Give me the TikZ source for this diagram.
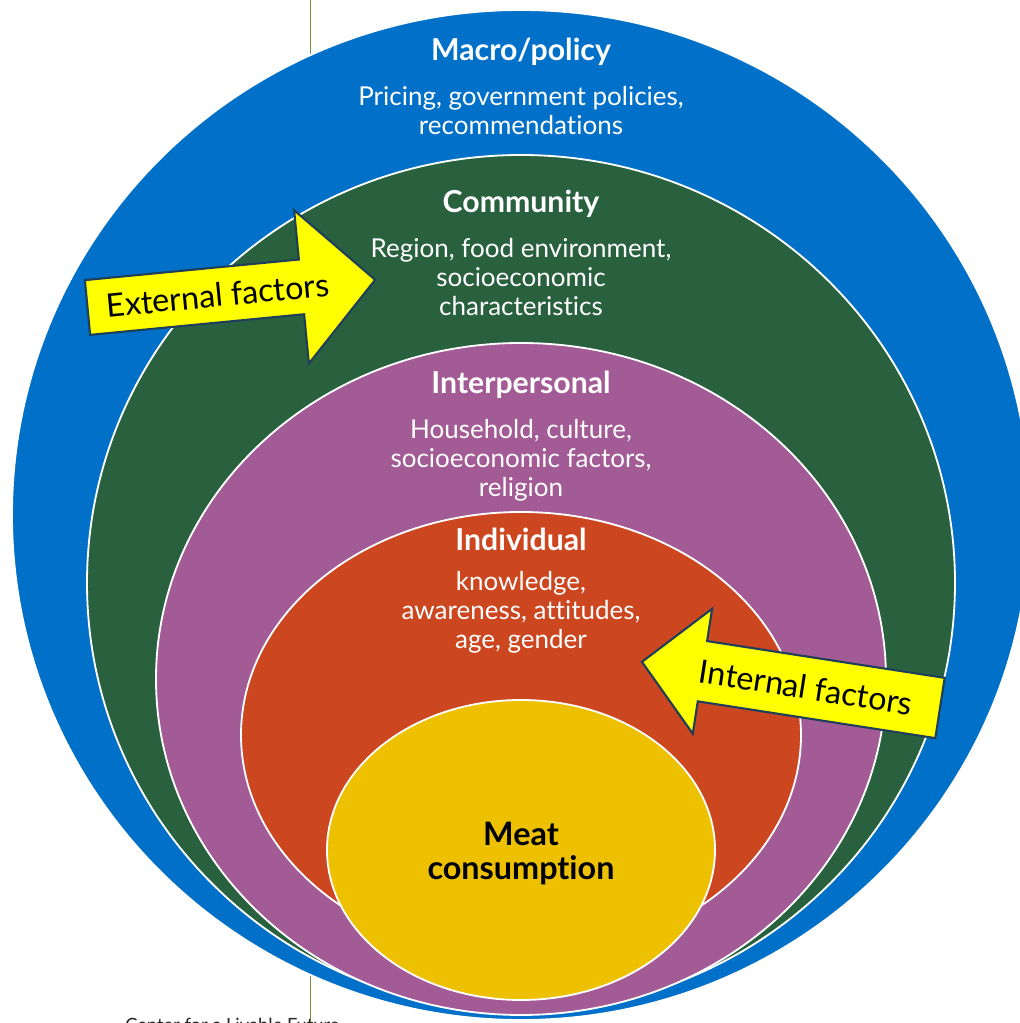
\documentclass[tikz,border=0pt]{standalone}
\usepackage{fontspec}
\setmainfont{Lato}[Ligatures={NoCommon}]
\usetikzlibrary{positioning, shapes.geometric}
\definecolor{macroblue}{HTML}{0070C8}
\definecolor{commgreen}{HTML}{29613F}
\definecolor{interpurple}{HTML}{A35B96}
\definecolor{indivred}{HTML}{CC4620}
\definecolor{meatgold}{HTML}{EEC100}
\definecolor{factoryellow}{HTML}{FFFF00}
\definecolor{arrowedge}{HTML}{1F3E5A}
\definecolor{ruleolive}{HTML}{77933C}

\begin{document}
\begin{tikzpicture}[
  ring/.style={ellipse, draw=white, line width=1.3pt, fill=#1, inner sep=0pt},
  ttl/.style={font=\fontsize{21.5}{24}\selectfont\bfseries, text=white,
              align=center, inner sep=0pt},
  txt/.style={font=\fontsize{18.5}{20.6}\selectfont, text=white,
              align=center, inner sep=0pt},
  bigarr/.style={draw=arrowedge, line width=1.5pt, fill=factoryellow,
                 line join=miter},
  arrtxt/.style={font=\fontsize{23}{26}\selectfont, inner sep=0pt},
]

\fill[white] (0,0) rectangle (25.475,25.575);
\useasboundingbox (0,0) rectangle (25.475,25.575);

% page rule behind the rings
\draw[ruleolive, line width=0.7pt] (7.75,25.575) -- (7.75,0);

%% ===== NESTED RINGS =====

\node[ring=macroblue, minimum width=25.45cm, minimum height=25.25cm] (macro) at (13.025,12.7) {};
\node[ring=commgreen, minimum width=21.7cm, minimum height=21.4cm] (comm) at (13.025,11.0) {};
\node[ring=interpurple, minimum width=18.25cm, minimum height=16.8cm] (inter) at (13.025,8.6) {};
\node[ring=indivred, minimum width=14.0cm, minimum height=11.15cm] (indiv) at (13.025,7.2) {};
\node[ring=meatgold, minimum width=9.7cm, minimum height=7.5cm] (meat) at (13.025,4.325) {};

%% ===== RING LABELS =====

\node[ttl] (macrottl) at ([yshift=-1.075cm]macro.north) {Macro/policy};
\node[txt, below=0.5cm of macrottl] (macrotxt)
    {Pricing, government policies,\\recommendations};

\node[ttl] (commttl) at ([yshift=-1.25cm]comm.north) {Community};
\node[txt, below=0.5cm of commttl] (commtxt)
    {Region, food environment,\\socioeconomic\\characteristics};

\node[ttl] (interttl) at ([yshift=-1.075cm]inter.north) {Interpersonal};
\node[txt, below=0.5cm of interttl] (intertxt)
    {Household, culture,\\socioeconomic factors,\\religion};

\node[ttl] (indivttl) at ([yshift=-0.7cm]indiv.north) {Individual};
\node[txt, below=0.5cm of indivttl] (indivtxt)
    {knowledge,\\awareness, attitudes,\\age, gender};

\node[font=\fontsize{23}{24.2}\selectfont\bfseries, align=center, inner sep=0pt]
    (meatlbl) at ([yshift=-0.1cm]meat.center) {Meat\\consumption};

%% ===== FACTOR ARROWS =====

\begin{scope}[shift={(2.1875,17.8875)}, rotate=5.5]
  \draw[bigarr] (0,0.6875) -- (5.375,0.6875) -- (5.375,1.925) -- (7.225,0)
    -- (5.375,-1.925) -- (5.375,-0.6875) -- (0,-0.6875) -- cycle;
  \node[arrtxt, transform shape] (extlbl) at (3.27,0) {External factors};
\end{scope}

\begin{scope}[shift={(23.5,7.875)}, rotate=171.2]
  \draw[bigarr] (0,0.7625) -- (6.01,0.7625) -- (6.01,1.58) -- (7.54,0)
    -- (6.01,-1.58) -- (6.01,-0.7625) -- (0,-0.7625) -- cycle;
  \node[arrtxt, rotate=-8.8] (intlbl) at (3.39,0) {Internal factors};
\end{scope}

% source line, cut by the page edge
\node[font=\fontsize{13}{15}\selectfont, text=black!85, anchor=base west,
      inner sep=0pt] (credit) at (3.125,-0.22) {Center for a Livable Future};

\end{tikzpicture}
\end{document}
